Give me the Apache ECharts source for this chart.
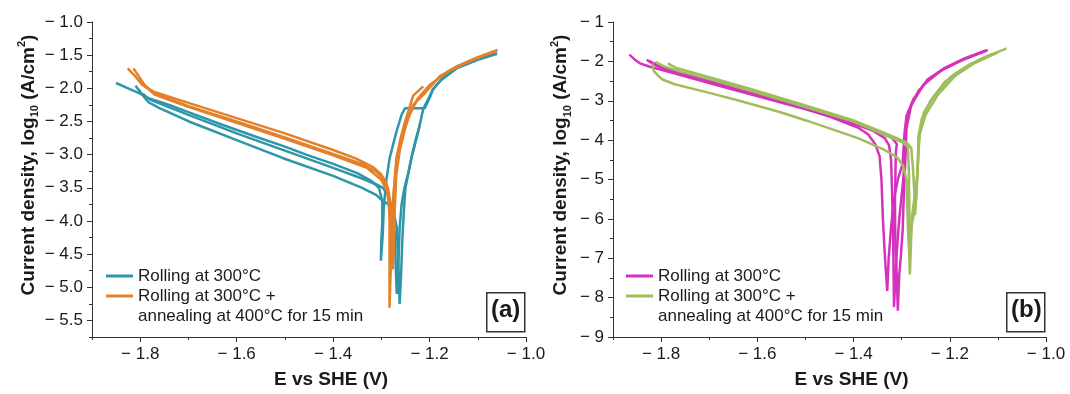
<!DOCTYPE html>
<html>
<head>
<meta charset="utf-8">
<script src="https://cdn.jsdelivr.net/npm/echarts@6/dist/echarts.min.js"></script>
<style>
  html, body { margin: 0; padding: 0; background: #fff; }
  #chart { width: 1070px; height: 394px; }
</style>
</head>
<body>
<div id="chart"></div>
<script>
// tick positions
var xMajor = [-1.8, -1.6, -1.4, -1.2, -1.0];
var xMinor = [-1.9, -1.7, -1.5, -1.3, -1.1];
var aYMajor = [-1.0, -1.5, -2.0, -2.5, -3.0, -3.5, -4.0, -4.5, -5.0, -5.5];
var aYMinor = [-1.25, -1.75, -2.25, -2.75, -3.25, -3.75, -4.25, -4.75, -5.25, -5.75];
var bYMajor = [-1, -2, -3, -4, -5, -6, -7, -8, -9];
var bYMinor = [-1.5, -2.5, -3.5, -4.5, -5.5, -6.5, -7.5, -8.5];

var nameRolled = 'Rolling at 300°C';
var nameAnnealed = 'Rolling at 300°C +';
var nameAnnealed2 = 'annealing at 400°C for 15 min';

// panel (a) curves: [E (V), log10 i]
var aTeal1 = [[-1.850,-1.92],[-1.825,-2.00],[-1.800,-2.08],[-1.786,-2.14],[-1.740,-2.25],[-1.700,-2.36],[-1.630,-2.55],[-1.560,-2.73],[-1.500,-2.88],[-1.456,-3.00],[-1.400,-3.14],[-1.350,-3.28],[-1.320,-3.40],[-1.305,-3.50],[-1.298,-3.70],[-1.298,-4.00],[-1.300,-4.30],[-1.301,-4.60],[-1.297,-4.20],[-1.295,-3.80],[-1.290,-3.40],[-1.283,-3.06],[-1.269,-2.66],[-1.258,-2.40],[-1.251,-2.30],[-1.230,-2.30],[-1.210,-2.30],[-1.200,-2.15],[-1.193,-2.02],[-1.175,-1.86],[-1.144,-1.69],[-1.100,-1.56],[-1.060,-1.47]];
var aTeal2 = [[-1.810,-1.96],[-1.800,-2.05],[-1.790,-2.15],[-1.783,-2.21],[-1.760,-2.30],[-1.699,-2.50],[-1.600,-2.78],[-1.505,-3.05],[-1.400,-3.32],[-1.340,-3.50],[-1.310,-3.61],[-1.297,-3.70],[-1.285,-3.75],[-1.275,-3.85],[-1.268,-4.10],[-1.265,-4.60],[-1.262,-5.25],[-1.259,-4.80],[-1.256,-4.20],[-1.252,-3.70],[-1.250,-3.50],[-1.243,-3.25],[-1.237,-3.03],[-1.225,-2.70],[-1.213,-2.31],[-1.200,-2.12],[-1.193,-2.01],[-1.175,-1.87],[-1.144,-1.70],[-1.100,-1.57],[-1.060,-1.48]];
var aTeal3 = [[-1.795,-2.08],[-1.780,-2.17],[-1.700,-2.40],[-1.600,-2.68],[-1.500,-2.94],[-1.400,-3.20],[-1.340,-3.36],[-1.310,-3.45],[-1.297,-3.50],[-1.285,-3.62],[-1.278,-3.80],[-1.272,-4.20],[-1.270,-4.70],[-1.268,-5.10],[-1.265,-4.70],[-1.262,-4.10],[-1.258,-3.75],[-1.252,-3.50],[-1.245,-3.30],[-1.237,-3.03],[-1.228,-2.75],[-1.220,-2.55]];
var aOrange1 = [[-1.826,-1.70],[-1.810,-1.82],[-1.797,-1.94],[-1.780,-2.02],[-1.769,-2.06],[-1.700,-2.22],[-1.600,-2.45],[-1.500,-2.68],[-1.400,-2.93],[-1.352,-3.06],[-1.317,-3.19],[-1.300,-3.30],[-1.290,-3.42],[-1.285,-3.60],[-1.283,-4.00],[-1.283,-4.60],[-1.283,-5.31],[-1.280,-4.60],[-1.277,-4.00],[-1.273,-3.50],[-1.269,-3.06],[-1.260,-2.75],[-1.251,-2.51],[-1.234,-2.11],[-1.213,-1.97]];
var aOrange2 = [[-1.814,-1.70],[-1.800,-1.85],[-1.790,-1.96],[-1.769,-2.08],[-1.700,-2.27],[-1.600,-2.50],[-1.500,-2.74],[-1.400,-2.99],[-1.340,-3.14],[-1.310,-3.26],[-1.297,-3.36],[-1.286,-3.51],[-1.280,-3.80],[-1.278,-4.30],[-1.276,-4.73],[-1.274,-4.30],[-1.272,-3.80],[-1.269,-3.30],[-1.262,-2.95],[-1.251,-2.60],[-1.234,-2.25],[-1.213,-2.10],[-1.179,-1.82],[-1.144,-1.67],[-1.100,-1.53],[-1.059,-1.42]];
var aOrange3 = [[-1.800,-1.90],[-1.769,-2.10],[-1.700,-2.28],[-1.600,-2.52],[-1.500,-2.76],[-1.400,-3.01],[-1.330,-3.20],[-1.300,-3.38],[-1.288,-3.55],[-1.282,-3.90],[-1.280,-4.50],[-1.278,-4.00],[-1.275,-3.60],[-1.270,-3.20],[-1.262,-2.90],[-1.245,-2.45],[-1.225,-2.16],[-1.200,-1.95],[-1.160,-1.74],[-1.120,-1.60],[-1.060,-1.43]];

// panel (b) curves
var bMag1 = [[-1.866,-1.83],[-1.855,-1.95],[-1.844,-2.05],[-1.825,-2.13],[-1.786,-2.26],[-1.700,-2.55],[-1.643,-2.74],[-1.570,-2.98],[-1.499,-3.22],[-1.450,-3.40],[-1.391,-3.68],[-1.370,-3.85],[-1.355,-4.10],[-1.346,-4.40],[-1.342,-5.00],[-1.339,-6.00],[-1.336,-6.70],[-1.333,-7.30],[-1.330,-7.83],[-1.327,-7.00],[-1.322,-6.20],[-1.316,-5.50],[-1.308,-5.00],[-1.298,-4.60],[-1.294,-3.81],[-1.290,-3.39],[-1.276,-2.97],[-1.247,-2.47],[-1.211,-2.17],[-1.168,-1.92],[-1.121,-1.71]];
var bMag2 = [[-1.830,-1.96],[-1.815,-2.08],[-1.790,-2.20],[-1.700,-2.50],[-1.600,-2.84],[-1.499,-3.20],[-1.400,-3.58],[-1.360,-3.76],[-1.335,-3.95],[-1.326,-4.14],[-1.322,-4.50],[-1.320,-5.30],[-1.318,-6.20],[-1.317,-7.20],[-1.316,-8.24],[-1.313,-7.50],[-1.310,-6.80],[-1.305,-6.00],[-1.300,-5.40],[-1.296,-4.90],[-1.293,-4.20],[-1.291,-3.70],[-1.285,-3.25],[-1.265,-2.75],[-1.240,-2.42],[-1.211,-2.18],[-1.170,-1.94],[-1.125,-1.73]];
var bMag3 = [[-1.825,-1.99],[-1.800,-2.15],[-1.700,-2.48],[-1.600,-2.82],[-1.500,-3.17],[-1.400,-3.55],[-1.350,-3.76],[-1.320,-3.95],[-1.310,-4.10],[-1.312,-4.30],[-1.314,-5.50],[-1.313,-6.70],[-1.310,-7.50],[-1.308,-8.33],[-1.305,-7.40],[-1.302,-7.00],[-1.298,-6.30],[-1.295,-5.20],[-1.292,-4.40],[-1.290,-3.70],[-1.280,-3.10],[-1.255,-2.60],[-1.220,-2.25],[-1.180,-2.00],[-1.130,-1.75]];
var bGreen1 = [[-1.819,-2.05],[-1.815,-2.25],[-1.805,-2.38],[-1.797,-2.46],[-1.772,-2.58],[-1.700,-2.80],[-1.643,-2.98],[-1.550,-3.30],[-1.499,-3.50],[-1.450,-3.70],[-1.391,-3.95],[-1.340,-4.22],[-1.310,-4.43],[-1.297,-4.65],[-1.290,-5.00],[-1.288,-5.80],[-1.286,-6.50],[-1.284,-7.00],[-1.283,-7.41],[-1.281,-6.80],[-1.279,-6.00],[-1.275,-5.60],[-1.270,-5.20],[-1.267,-4.80],[-1.265,-4.30],[-1.262,-3.80],[-1.254,-3.30],[-1.233,-2.88],[-1.197,-2.38],[-1.161,-2.09],[-1.125,-1.88],[-1.089,-1.71],[-1.082,-1.67]];
var bGreen2 = [[-1.812,-2.01],[-1.795,-2.12],[-1.760,-2.26],[-1.700,-2.45],[-1.600,-2.80],[-1.500,-3.16],[-1.400,-3.53],[-1.331,-3.89],[-1.297,-4.06],[-1.287,-4.18],[-1.285,-4.80],[-1.284,-5.80],[-1.283,-6.90],[-1.280,-6.20],[-1.275,-5.90],[-1.270,-5.50],[-1.268,-5.00],[-1.266,-4.50],[-1.265,-3.90],[-1.258,-3.45],[-1.240,-3.00],[-1.210,-2.52],[-1.170,-2.17],[-1.130,-1.93],[-1.111,-1.80]];
var bGreen3 = [[-1.786,-2.05],[-1.770,-2.16],[-1.700,-2.40],[-1.643,-2.60],[-1.600,-2.75],[-1.500,-3.12],[-1.400,-3.50],[-1.355,-3.72],[-1.320,-3.90],[-1.290,-4.06],[-1.280,-4.20],[-1.276,-4.80],[-1.273,-5.50],[-1.272,-5.90],[-1.270,-5.50],[-1.268,-5.00],[-1.266,-4.40],[-1.264,-3.90],[-1.250,-3.35],[-1.225,-2.85],[-1.190,-2.38],[-1.150,-2.05],[-1.110,-1.83],[-1.100,-1.78]];

var teal = '#2f96a8', orange = '#e3812b', magenta = '#d631bd', green = '#9fbd5d';
var axisColor = '#333', textColor = '#1a1a1a';
var font = 'Liberation Sans, Arial, sans-serif';

var chart = echarts.init(document.getElementById('chart'));

function minus(v, d) {
    return '\u2212 ' + (d ? Math.abs(v).toFixed(d) : Math.abs(v));
}

function xAxes(grid) {
    return [{
        gridIndex: grid, type: 'value', min: -1.9, max: -1.0, position: 'bottom',
        axisLine: {lineStyle: {color: axisColor, width: 1}},
        axisTick: {customValues: xMajor, length: 5, lineStyle: {color: axisColor}},
        axisLabel: {customValues: xMajor, formatter: function (v) { return minus(v, 1); },
            color: textColor, fontFamily: font, fontSize: 17, margin: 9},
        splitLine: {show: false},
        name: 'E vs SHE (V)', nameLocation: 'middle', nameGap: 33,
        nameTextStyle: {color: textColor, fontFamily: font, fontSize: 19, fontWeight: 'bold', padding: [0, 0, 0, 44]}
    }, {
        gridIndex: grid, type: 'value', min: -1.9, max: -1.0, position: 'bottom',
        axisLine: {show: false},
        axisTick: {customValues: xMinor, length: 3, lineStyle: {color: axisColor}},
        axisLabel: {show: false},
        splitLine: {show: false}
    }];
}

function yAxes(grid, min, major, minor, digits, gap) {
    return [{
        gridIndex: grid, type: 'value', min: min, max: -1, position: 'left',
        axisLine: {show: true, lineStyle: {color: axisColor, width: 1}},
        axisTick: {show: true, customValues: major, length: 5, lineStyle: {color: axisColor}},
        axisLabel: {customValues: major, formatter: function (v) { return minus(v, digits); },
            color: textColor, fontFamily: font, fontSize: 17, margin: 9},
        splitLine: {show: false},
        name: 'Current density, log{sub|10} (A/cm{sup|2})', nameLocation: 'middle', nameGap: gap,
        nameTextStyle: {
            color: textColor, fontFamily: font, fontSize: 19, fontWeight: 'bold', lineHeight: 24,
            padding: [0, 0, 0, 29],
            rich: {
                sub: {fontSize: 11, fontWeight: 'bold', fontFamily: font, color: textColor, verticalAlign: 'bottom', lineHeight: 24},
                sup: {fontSize: 11, fontWeight: 'bold', fontFamily: font, color: textColor, verticalAlign: 'top', lineHeight: 24}
            }
        }
    }, {
        gridIndex: grid, type: 'value', min: min, max: -1, position: 'left',
        axisLine: {show: false},
        axisTick: {show: true, customValues: minor, length: 3, lineStyle: {color: axisColor}},
        axisLabel: {show: false},
        splitLine: {show: false}
    }];
}

function curve(name, data, color, xi, yi) {
    return {
        name: name, type: 'line', data: data, xAxisIndex: xi, yAxisIndex: yi,
        symbol: 'none', showSymbol: false, smooth: false,
        lineStyle: {color: color, width: 2.5}, itemStyle: {color: color},
        z: 3
    };
}

function legend(left, c1, c2) {
    return {
        left: left, top: 266, orient: 'vertical', padding: 0, itemGap: 0,
        itemWidth: 27, itemHeight: 3, icon: 'rect',
        textStyle: {color: textColor, fontFamily: font, fontSize: 17, lineHeight: 20},
        data: [
            {name: nameRolled, itemStyle: {color: c1}},
            {name: nameAnnealed, itemStyle: {color: c2}}
        ],
        selectedMode: false
    };
}

function panelTag(x, label) {
    return [{
        type: 'rect', left: x, top: 292, z: 10,
        shape: {width: 38, height: 39},
        style: {fill: '#fff', stroke: '#333', lineWidth: 1.5}
    }, {
        type: 'text', left: x + 5, top: 298, z: 11,
        style: {text: label, font: 'bold 24px ' + font, fill: textColor}
    }];
}

var option = {
    animation: false,
    backgroundColor: '#fff',
    grid: [
        {left: 92, top: 22, width: 434, height: 318},
        {left: 613, top: 22, width: 433, height: 318}
    ],
    xAxis: xAxes(0).concat(xAxes(1)),
    yAxis: yAxes(0, -5.75, aYMajor, aYMinor, 1, 50).concat(yAxes(1, -9, bYMajor, bYMinor, 0, 40)),
    legend: [legend(106, teal, orange), legend(626, magenta, green)],
    graphic: [
        {type: 'text', left: 138, top: 308, style: {text: nameAnnealed2, font: '17px ' + font, fill: textColor}},
        {type: 'text', left: 658, top: 308, style: {text: nameAnnealed2, font: '17px ' + font, fill: textColor}}
    ].concat(panelTag(486, '(a)')).concat(panelTag(1006, '(b)')),
    series: [
        curve(nameRolled, aTeal1, teal, 0, 0),
        curve(nameRolled, aTeal2, teal, 0, 0),
        curve(nameRolled, aTeal3, teal, 0, 0),
        curve(nameAnnealed, aOrange1, orange, 0, 0),
        curve(nameAnnealed, aOrange2, orange, 0, 0),
        curve(nameAnnealed, aOrange3, orange, 0, 0),
        curve(nameRolled, bMag1, magenta, 2, 2),
        curve(nameRolled, bMag2, magenta, 2, 2),
        curve(nameRolled, bMag3, magenta, 2, 2),
        curve(nameAnnealed, bGreen1, green, 2, 2),
        curve(nameAnnealed, bGreen2, green, 2, 2),
        curve(nameAnnealed, bGreen3, green, 2, 2)
    ]
};

chart.setOption(option);
</script>
</body>
</html>
